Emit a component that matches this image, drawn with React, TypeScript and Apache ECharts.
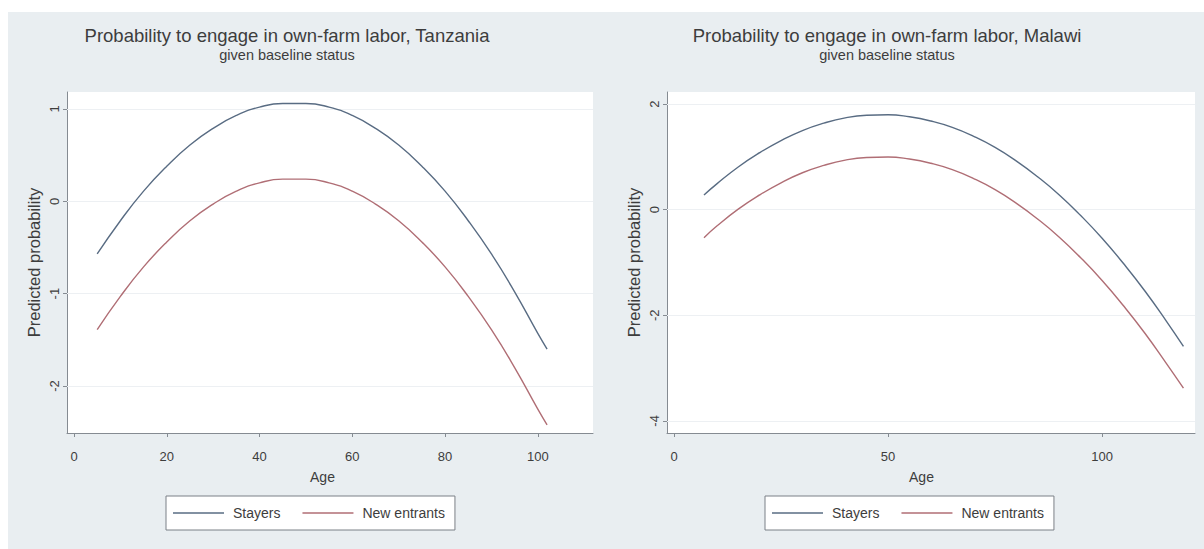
import React, { useEffect, useRef } from "react";
import * as echarts from "echarts";

// Predicted probability of own-farm labour by age, two countries
const tzAges = [5, 10, 15, 20, 25, 30, 35, 40, 45, 50, 55, 60, 65, 70, 75, 80, 85, 90, 95, 100, 102];
const tzStayers = [-0.57, -0.21, 0.11, 0.38, 0.61, 0.79, 0.93, 1.02, 1.06, 1.06, 1.02, 0.93, 0.79, 0.61, 0.38, 0.11, -0.21, -0.57, -0.98, -1.43, -1.6];
const tzNewEntrants = [-1.39, -1.03, -0.71, -0.44, -0.21, -0.03, 0.11, 0.2, 0.24, 0.24, 0.2, 0.11, -0.03, -0.21, -0.44, -0.71, -1.03, -1.39, -1.8, -2.25, -2.42];

const mwAges = [7, 10, 15, 20, 25, 30, 35, 40, 45, 50, 55, 60, 65, 70, 75, 80, 85, 90, 95, 100, 105, 110, 115, 119];
const mwStayers = [0.28, 0.49, 0.81, 1.08, 1.31, 1.5, 1.64, 1.74, 1.79, 1.8, 1.76, 1.68, 1.56, 1.39, 1.18, 0.92, 0.62, 0.28, -0.11, -0.54, -1.02, -1.54, -2.11, -2.59];
const mwNewEntrants = [-0.53, -0.31, 0.01, 0.28, 0.51, 0.7, 0.84, 0.94, 0.99, 1.0, 0.96, 0.88, 0.76, 0.59, 0.38, 0.12, -0.18, -0.52, -0.91, -1.34, -1.82, -2.34, -2.91, -3.38];

const tzXTicks = [0, 20, 40, 60, 80, 100];
const tzYTicks = [-2, -1, 0, 1];
const mwXTicks = [0, 50, 100];
const mwYTicks = [-4, -2, 0, 2];

const seriesNames = ["Stayers", "New entrants"];
const titles = [
  "Probability to engage in own-farm labor, Tanzania",
  "Probability to engage in own-farm labor, Malawi",
];
const subtitle = "given baseline status";

const FONT = "'Liberation Sans', Arial, sans-serif";
const STAYER_COLOR = "#596c83";
const ENTRANT_COLOR = "#b06e75";
const AXIS_COLOR = "#858b92";
const TEXT_COLOR = "#3d3d3d";
const GRID_LINE = "#edf0f3";

const pairs = (xs: number[], ys: number[]) => xs.map((x, i) => [x, ys[i]]);

export default function App() {
  const ref = useRef<HTMLDivElement>(null);

  useEffect(() => {
    if (!ref.current) return;
    const chart = echarts.init(ref.current, null, { renderer: "svg" });

    const xAxisFor = (gridIndex: number, min: number, max: number, ticks: number[]) => ({
      type: "value",
      gridIndex,
      min,
      max,
      axisLine: { show: true, onZero: false, lineStyle: { color: AXIS_COLOR, width: 1 } },
      axisTick: { show: true, length: 4, customValues: ticks, lineStyle: { color: AXIS_COLOR } },
      axisLabel: { customValues: ticks, margin: 17, fontSize: 13, color: TEXT_COLOR, fontFamily: FONT },
      splitLine: { show: false },
    });

    const yAxisFor = (gridIndex: number, min: number, max: number, ticks: number[]) => ({
      type: "value",
      gridIndex,
      min,
      max,
      name: "Predicted probability",
      nameLocation: "middle",
      nameGap: 25,
      nameTextStyle: { fontSize: 16.5, color: TEXT_COLOR, fontFamily: FONT },
      axisLine: { show: true, onZero: false, lineStyle: { color: AXIS_COLOR, width: 1 } },
      axisTick: { show: true, length: 4, customValues: ticks, lineStyle: { color: AXIS_COLOR } },
      axisLabel: { customValues: ticks, rotate: 90, margin: 6, fontSize: 13, color: TEXT_COLOR, fontFamily: FONT },
      splitLine: { show: false },
    });

    // Faint horizontal grid lines at the labelled y values, drawn beneath the curves
    const gridSeries = (idx: number, ticks: number[]) => ({
      type: "line",
      xAxisIndex: idx,
      yAxisIndex: idx,
      data: [],
      z: 1,
      silent: true,
      markLine: {
        z: 1,
        silent: true,
        symbol: "none",
        label: { show: false },
        lineStyle: { color: GRID_LINE, type: "solid", width: 1 },
        data: ticks.map((t) => ({ yAxis: t })),
      },
    });

    const lineSeries = (name: string, idx: number, data: number[][], color: string) => ({
      name,
      type: "line",
      xAxisIndex: idx,
      yAxisIndex: idx,
      data,
      smooth: true,
      symbol: "none",
      lineStyle: { color, width: 1.4 },
      itemStyle: { color },
      z: 6,
    });

    const legendFor = (left: number) => ({
      left,
      top: 484,
      orient: "horizontal",
      data: seriesNames,
      icon: "rect",
      backgroundColor: "#ffffff",
      borderColor: "#7b8087",
      borderWidth: 1,
      borderRadius: 0,
      padding: [10, 10, 10, 7],
      itemWidth: 51,
      itemHeight: 1.4,
      itemGap: 22,
      textStyle: { fontSize: 14, color: TEXT_COLOR, fontFamily: FONT, padding: [0, 0, 0, 4] },
      selectedMode: false,
    });

    const titleFor = (text: string, left: number) => ({
      text,
      subtext: subtitle,
      left,
      top: 14,
      textAlign: "center",
      padding: 0,
      itemGap: 2,
      textStyle: { fontSize: 18.5, fontWeight: "normal", color: TEXT_COLOR, fontFamily: FONT },
      subtextStyle: { fontSize: 14.5, color: TEXT_COLOR, fontFamily: FONT },
    });

    const ageLabel = (left: number) => ({
      type: "text",
      left,
      top: 458,
      style: { text: "Age", fontSize: 14, fill: TEXT_COLOR, fontFamily: FONT, textAlign: "center" },
    });

    chart.setOption({
      animation: false,
      backgroundColor: "#e9eef1",
      textStyle: { fontFamily: FONT },
      title: [titleFor(titles[0], 279), titleFor(titles[1], 879)],
      grid: [
        { left: 59, top: 80, width: 526, height: 341, show: true, backgroundColor: "#ffffff", borderWidth: 0 },
        { left: 659, top: 80, width: 528, height: 341, show: true, backgroundColor: "#ffffff", borderWidth: 0 },
      ],
      xAxis: [xAxisFor(0, -1.51, 111.9, tzXTicks), xAxisFor(1, -1.64, 121.7, mwXTicks)],
      yAxis: [yAxisFor(0, -2.509, 1.184, tzYTicks), yAxisFor(1, -4.23, 2.23, mwYTicks)],
      legend: [legendFor(158), legendFor(757)],
      graphic: [ageLabel(302), ageLabel(901)],
      series: [
        gridSeries(0, tzYTicks),
        gridSeries(1, mwYTicks),
        lineSeries(seriesNames[0], 0, pairs(tzAges, tzStayers), STAYER_COLOR),
        lineSeries(seriesNames[1], 0, pairs(tzAges, tzNewEntrants), ENTRANT_COLOR),
        lineSeries(seriesNames[0], 1, pairs(mwAges, mwStayers), STAYER_COLOR),
        lineSeries(seriesNames[1], 1, pairs(mwAges, mwNewEntrants), ENTRANT_COLOR),
      ],
    });

    return () => chart.dispose();
  }, []);

  return (
    <div
      ref={ref}
      style={{ position: "absolute", left: 8, top: 12, width: 1196, height: 537 }}
    />
  );
}
